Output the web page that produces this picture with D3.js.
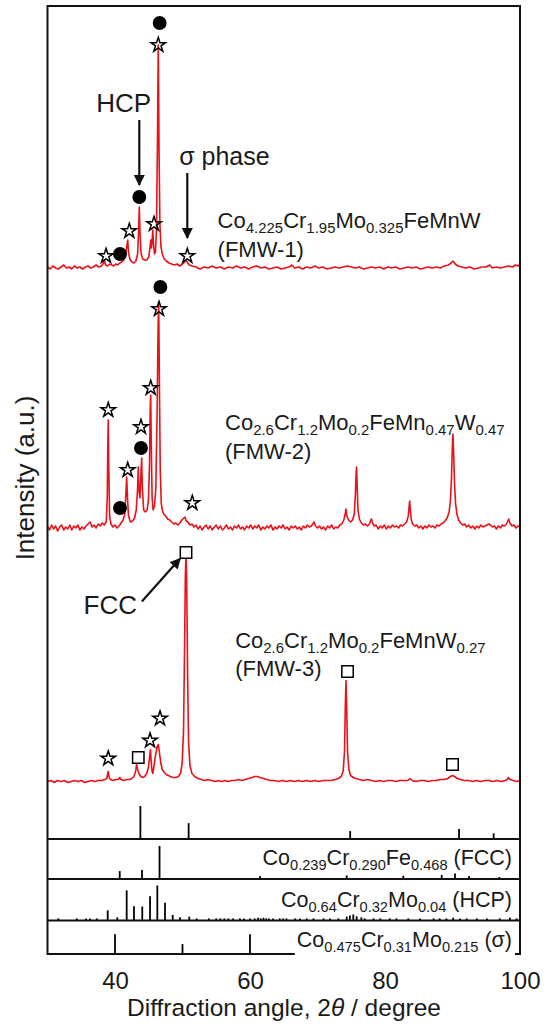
<!DOCTYPE html>
<html>
<head>
<meta charset="utf-8">
<script src="https://cdn.jsdelivr.net/npm/d3@7"></script>
<style>
  body { margin: 0; background: #fff; }
  svg { display: block; }
  text { font-family: "Liberation Sans", Arial, Helvetica, sans-serif; fill: #1a1a1a; }
</style>
</head>
<body>
<svg id="chart" width="546" height="1030"></svg>
<script>
// ---------- data ----------
const angleDomain = [30, 100];
const xTicks = [40, 60, 80, 100];

// XRD scans, [2theta (deg), intensity above own baseline (a.u.)]
const fmw1 = [
  [30.0,1],[30.4,-1],[30.8,2],[31.2,0],[31.6,-1],[32.0,1],[32.4,3],[32.8,0],[33.2,1],[33.6,-1],
  [34.0,2],[34.4,0],[34.8,1],[35.2,-1],[35.6,1],[36.0,2],[36.4,0],[36.8,1],[37.2,3],[37.6,1],
  [38.0,2],[38.3,5],[38.45,7],[38.6,3],[38.9,2],[39.2,4],[39.5,3],[39.8,2],[40.1,4],[40.4,3],
  [40.7,5],[41.0,6],[41.3,8],[41.55,12],[41.75,22],[41.88,28],[42.0,16],[42.2,9],[42.5,6],[42.8,5],
  [43.1,7],[43.35,14],[43.5,38],[43.6,61],[43.7,36],[43.85,15],[44.1,9],[44.4,8],[44.7,8],[45.0,11],
  [45.2,22],[45.3,28],[45.4,20],[45.5,28],[45.6,38],[45.7,24],[45.85,14],[46.0,16],[46.15,40],[46.28,120],
  [46.41,223],[46.52,120],[46.65,45],[46.8,22],[47.0,14],[47.3,9],[47.6,7],[48.0,5],[48.4,4],[48.8,3],
  [49.2,4],[49.6,2],[50.0,4],[50.3,6],[50.5,8],[50.7,6],[51.0,3],[51.4,2],[52.0,1],[52.6,-1],
  [53.2,1],[53.8,0],[54.4,2],[55.0,0],[55.6,1],[56.2,-1],[56.8,1],[57.4,0],[58.0,2],[58.6,0],
  [59.2,1],[59.8,-1],[60.4,1],[61.0,2],[61.6,0],[62.2,1],[62.8,-1],[63.4,0],[64.0,1],[64.6,-1],
  [65.2,0],[65.8,1],[66.2,3],[66.6,0],[67.2,1],[67.8,-1],[68.4,1],[69.0,0],[69.6,2],[70.2,0],
  [70.8,1],[71.4,-1],[72.0,0],[72.6,1],[73.2,0],[73.8,1],[74.4,2],[75.0,1],[75.6,0],[76.2,1],
  [76.8,-1],[77.4,0],[78.0,1],[78.6,0],[79.2,1],[79.8,-1],[80.4,1],[81.0,0],[81.6,1],[82.2,-1],
  [82.8,0],[83.4,1],[84.0,0],[84.6,1],[85.2,-1],[85.8,0],[86.4,1],[87.0,0],[87.6,1],[88.2,0],
  [88.8,2],[89.4,3],[89.8,5],[90.07,7],[90.4,4],[90.8,2],[91.4,1],[92.0,0],[92.6,1],[93.2,-1],
  [93.8,0],[94.4,1],[95.0,1],[95.5,3],[95.9,0],[96.5,1],[97.1,0],[97.7,1],[98.3,2],[98.9,1],
  [99.3,3],[99.7,2],[100.0,4]
];

const fmw2 = [
  [30.0,2],[30.3,-2],[30.6,3],[30.9,-1],[31.2,2],[31.5,-3],[31.8,1],[32.1,3],[32.4,-2],[32.7,1],
  [33.0,-1],[33.3,3],[33.6,-2],[33.9,2],[34.2,0],[34.5,3],[34.8,-2],[35.1,1],[35.4,-1],[35.7,2],
  [36.0,4],[36.3,6],[36.6,1],[36.9,3],[37.2,0],[37.5,4],[37.8,2],[38.1,5],[38.4,3],[38.7,6],
  [38.85,30],[38.95,90],[39.0,108],[39.08,60],[39.2,12],[39.4,4],[39.7,1],[40.0,3],[40.3,0],[40.6,2],
  [40.9,5],[41.2,8],[41.45,14],[41.62,35],[41.73,51],[41.85,30],[42.0,12],[42.3,6],[42.6,7],[42.9,10],
  [43.15,18],[43.35,40],[43.45,61],[43.55,38],[43.7,30],[43.85,55],[43.95,70],[44.05,40],[44.25,18],[44.5,16],
  [44.75,18],[44.95,28],[45.1,60],[45.22,120],[45.29,133],[45.38,80],[45.5,30],[45.65,18],[45.85,22],[46.05,40],
  [46.25,120],[46.38,200],[46.47,226],[46.56,160],[46.7,60],[46.85,25],[47.0,18],[47.2,14],[47.5,12],[47.8,9],
  [48.1,8],[48.4,6],[48.7,4],[49.0,5],[49.3,3],[49.6,5],[49.9,8],[50.2,10],[50.37,11],[50.55,7],
  [50.8,6],[51.1,3],[51.4,4],[51.7,1],[52.0,3],[52.3,-1],[52.6,2],[52.9,-2],[53.2,1],[53.5,3],
  [53.8,-1],[54.1,2],[54.4,-2],[54.7,1],[55.0,3],[55.3,-1],[55.6,2],[55.9,-2],[56.2,0],[56.5,3],
  [56.8,-1],[57.1,1],[57.4,-2],[57.7,2],[58.0,0],[58.3,3],[58.6,-1],[58.9,1],[59.2,-2],[59.5,2],
  [59.8,0],[60.1,3],[60.4,-1],[60.7,2],[61.0,0],[61.3,3],[61.6,-2],[61.9,1],[62.2,-1],[62.5,2],
  [62.8,0],[63.1,3],[63.4,-2],[63.7,1],[64.0,-1],[64.3,2],[64.6,0],[64.9,3],[65.2,-1],[65.5,1],
  [65.8,-2],[66.1,2],[66.4,0],[66.7,2],[67.0,-1],[67.3,1],[67.6,-2],[67.9,2],[68.2,0],[68.5,3],
  [68.8,1],[69.1,2],[69.3,4],[69.48,6],[69.7,2],[70.0,0],[70.3,2],[70.6,-1],[70.9,1],[71.2,-2],
  [71.5,2],[71.8,0],[72.1,3],[72.4,-1],[72.7,1],[73.0,0],[73.3,3],[73.6,4],[73.9,8],[74.1,14],
  [74.22,19],[74.35,12],[74.6,8],[74.9,6],[75.2,8],[75.45,14],[75.62,35],[75.72,55],[75.79,61],[75.88,40],
  [76.0,18],[76.2,9],[76.5,5],[76.8,3],[77.1,4],[77.4,2],[77.7,4],[77.9,8],[78.0,9],[78.15,5],
  [78.4,2],[78.7,3],[79.0,-1],[79.3,2],[79.6,0],[79.9,3],[80.2,-1],[80.5,2],[80.8,0],[81.1,3],
  [81.4,1],[81.7,2],[82.0,0],[82.3,3],[82.6,2],[82.9,4],[83.2,6],[83.45,12],[83.58,22],[83.66,27],
  [83.75,18],[83.9,8],[84.1,4],[84.4,2],[84.7,3],[85.0,0],[85.3,2],[85.6,-1],[85.9,2],[86.2,0],
  [86.5,3],[86.8,1],[87.1,2],[87.4,0],[87.7,3],[88.0,2],[88.3,4],[88.6,5],[88.9,7],[89.2,10],
  [89.5,16],[89.7,28],[89.85,50],[89.97,80],[90.07,94],[90.17,75],[90.3,45],[90.45,25],[90.65,14],[90.9,8],
  [91.2,5],[91.5,3],[91.8,4],[92.1,1],[92.4,3],[92.7,0],[93.0,2],[93.3,-1],[93.6,2],[93.9,0],
  [94.2,3],[94.5,1],[94.8,2],[95.1,3],[95.4,4],[95.6,3],[95.9,1],[96.2,2],[96.5,-1],[96.8,2],
  [97.1,0],[97.4,3],[97.7,2],[98.0,4],[98.2,7],[98.33,9],[98.5,5],[98.8,2],[99.1,3],[99.4,0],
  [99.7,2],[100.0,1]
];

const fmw3 = [
  [30.0,0],[30.5,1],[31.0,-1],[31.5,1],[32.0,0],[32.5,1],[33.0,-1],[33.5,0],[34.0,1],[34.5,0],
  [35.0,1],[35.5,-1],[36.0,0],[36.5,1],[37.0,0],[37.5,1],[38.0,1],[38.5,2],[38.8,3],[38.92,8],
  [39.0,10],[39.1,5],[39.3,2],[39.7,1],[40.1,2],[40.5,2],[40.7,4],[40.9,2],[41.3,1],[41.7,2],
  [42.1,2],[42.5,3],[42.8,5],[43.05,10],[43.2,17],[43.35,12],[43.55,8],[43.8,5],[44.1,4],[44.4,5],
  [44.7,8],[44.95,14],[45.15,26],[45.25,32],[45.38,18],[45.5,10],[45.6,8],[45.75,14],[46.0,26],[46.25,35],
  [46.42,37],[46.6,28],[46.8,18],[47.0,12],[47.3,9],[47.6,7],[47.9,6],[48.2,5],[48.6,4],[49.0,4],
  [49.4,5],[49.7,8],[49.95,18],[50.15,50],[50.3,130],[50.42,205],[50.52,228],[50.62,200],[50.75,110],[50.9,40],
  [51.1,16],[51.4,8],[51.8,5],[52.3,3],[52.8,2],[53.3,1],[53.8,2],[54.3,1],[54.8,0],[55.3,1],
  [55.8,0],[56.3,1],[56.8,0],[57.3,1],[57.8,1],[58.3,2],[58.8,1],[59.3,2],[59.8,3],[60.3,4],
  [60.7,5],[61.1,5],[61.5,4],[62.0,3],[62.5,2],[63.0,1],[63.6,1],[64.2,0],[64.8,1],[65.4,0],
  [66.0,1],[66.6,0],[67.2,1],[67.8,0],[68.4,1],[69.0,0],[69.6,1],[70.2,0],[70.8,1],[71.4,1],
  [72.0,1],[72.6,2],[73.1,3],[73.5,5],[73.8,10],[74.0,30],[74.12,75],[74.22,101],[74.32,75],[74.45,30],
  [74.65,12],[74.9,6],[75.3,4],[75.7,3],[76.2,2],[76.8,1],[77.4,2],[78.0,1],[78.6,0],[79.2,1],
  [79.8,0],[80.4,1],[81.0,1],[81.6,0],[82.2,1],[82.8,1],[83.4,1],[83.7,3],[84.0,1],[84.6,0],
  [85.2,1],[85.8,1],[86.4,0],[87.0,1],[87.6,1],[88.2,2],[88.8,2],[89.3,3],[89.7,5],[90.0,6],
  [90.3,5],[90.7,3],[91.2,2],[91.8,1],[92.4,1],[93.0,0],[93.6,1],[94.2,0],[94.8,1],[95.4,1],
  [96.0,0],[96.6,1],[97.2,0],[97.8,1],[98.1,2],[98.3,4],[98.5,2],[99.0,1],[99.5,0],[100.0,1]
];

// phase markers: [symbol, 2theta, intensity above baseline]
const fmw1Markers = [
  ["circle",46.62,245],["star",46.41,223],["circle",43.6,71],["star",45.78,44],
  ["star",42.12,37],["circle",40.74,14],["star",38.67,12],["star",50.71,12]
];
const fmw2Markers = [
  ["circle",46.72,241],["star",46.52,219],["star",45.29,140],["star",39.0,118],
  ["star",43.85,101],["circle",43.85,80],["star",41.88,58],["circle",40.74,20],["star",51.45,25]
];
const fmw3Markers = [
  ["star",39.0,23],["square",43.45,24],["star",45.19,41],["star",46.67,63],
  ["square",50.52,229],["square",74.45,110],["square",90.0,17]
];

// reference stick patterns: [2theta, relative intensity %]
const refSticksA = [[43.76,100],[50.91,48],[74.84,24],[90.97,30],[96.1,17]];
const refSticksB = [[40.7,24],[44.0,27],[46.6,100],[61.5,9],[74.33,11],[82.71,10],[88.4,12],[90.37,17],[92.44,9],[96.93,6]];
const refSticksC = [
  [31.6,6],[34.33,6],[35.7,6],[36.3,6],[37.3,6],[38.92,29],[40.34,9],[41.73,86],[42.81,41],[44.04,40],
  [45.19,69],[46.27,100],[47.41,51],[48.55,16],[49.63,9],[51.0,11],[52.1,6],[53.9,6],[55.0,6],[55.6,6],
  [56.2,6],[56.8,6],[57.5,6],[58.5,6],[59.1,6],[60.0,6],[60.7,6],[61.2,8],[61.6,6],[62.0,8],
  [62.4,6],[62.8,6],[63.4,6],[64.4,6],[64.9,6],[65.4,6],[66.7,6],[67.4,6],[68.4,6],[69.4,6],
  [70.9,6],[71.85,6],[73.1,6],[74.33,11],[74.8,14],[75.3,17],[75.8,12],[76.5,9],[77.0,6],[78.3,6],
  [79.3,6],[80.7,6],[81.7,6],[83.45,6],[85.2,6],[87.2,6],[88.1,6],[89.1,6],[90.1,8],[91.1,6],
  [92.1,6],[93.6,6],[95.1,6],[97.0,6],[98.5,8],[99.5,6]
];
const refSticksD = [[40,60],[50,30],[60,60]];

// formula labels: even items normal text, odd items subscripts
const sampleFormulas = [
  ["Co","4.225","Cr","1.95","Mo","0.325","FeMnW"],
  ["Co","2.6","Cr","1.2","Mo","0.2","FeMn","0.47","W","0.47"],
  ["Co","2.6","Cr","1.2","Mo","0.2","FeMnW","0.27"]
];
const sampleNames = ["(FMW-1)", "(FMW-2)", "(FMW-3)"];
const refFormulas = [
  ["Co","0.239","Cr","0.290","Fe","0.468"," (FCC)"],
  ["Co","0.64","Cr","0.32","Mo","0.04"," (HCP)"],
  ["Co","0.475","Cr","0.31","Mo","0.215"," (\u03c3)"]
];

// ---------- layout ----------
const RED = "#ea1118";
const frame = { left: 47.5, right: 520, top: 6, bottom: 954 };
const svg = d3.select("#chart");

const x = d3.scaleLinear().domain(angleDomain).range([frame.left, frame.right]);
const y = d3.scaleLinear().domain([0, 833]).range([839, frame.top]);
const offsets = [571, 311, 57.5];   // vertical stacking of the three scans

// arrow head
svg.append("defs").append("marker")
  .attr("id", "head").attr("viewBox", "0 0 10 10").attr("refX", 9).attr("refY", 5)
  .attr("markerWidth", 11).attr("markerHeight", 12).attr("markerUnits", "userSpaceOnUse")
  .attr("orient", "auto")
  .append("path").attr("d", "M0,0 L10,5 L0,10 Z").attr("fill", "#111");

// scans
const scans = [fmw1, fmw2, fmw3];
const line = off => d3.line().x(d => x(d[0])).y(d => y(d[1] + off));
svg.append("g").selectAll("path").data(scans).join("path")
  .attr("d", (d, i) => line(offsets[i])(d))
  .attr("fill", "none").attr("stroke", RED).attr("stroke-width", 1.6)
  .attr("stroke-linejoin", "round");

// phase markers
const symbolOf = { star: d3.symbolStar, circle: d3.symbolCircle, square: d3.symbolSquare };
const sizeOf = { star: 66, circle: 120, square: 130 };
[fmw1Markers, fmw2Markers, fmw3Markers].forEach((ms, i) => {
  svg.append("g").selectAll("path").data(ms).join("path")
    .attr("transform", d => `translate(${x(d[1])},${y(d[2] + offsets[i])})`)
    .attr("d", d => d3.symbol().type(symbolOf[d[0]]).size(sizeOf[d[0]])())
    .attr("fill", d => d[0] === "circle" ? "#000" : d[0] === "square" ? "#fff" : "none")
    .attr("stroke", "#000").attr("stroke-width", 1.5).attr("stroke-linejoin", "miter");
});

// reference stick panels
const panels = [
  { base: 839, h: 33, sticks: refSticksA },
  { base: 879, h: 33, sticks: refSticksB },
  { base: 920.5, h: 35, sticks: refSticksC },
  { base: 954, h: 33, sticks: refSticksD }
];
panels.forEach(p => {
  const py = d3.scaleLinear().domain([0, 100]).range([p.base, p.base - p.h]);
  svg.append("g").selectAll("line").data(p.sticks).join("line")
    .attr("x1", d => x(d[0])).attr("x2", d => x(d[0]))
    .attr("y1", py(0)).attr("y2", d => py(d[1]))
    .attr("stroke", "#000").attr("stroke-width", 1.8);
});

// frame and panel dividers
svg.append("rect")
  .attr("x", frame.left).attr("y", frame.top)
  .attr("width", frame.right - frame.left).attr("height", frame.bottom - frame.top)
  .attr("fill", "none").attr("stroke", "#111").attr("stroke-width", 2);
svg.append("g").selectAll("line").data([839, 879, 920.5]).join("line")
  .attr("x1", frame.left).attr("x2", frame.right).attr("y1", d => d).attr("y2", d => d)
  .attr("stroke", "#111").attr("stroke-width", 2);

// formula text helper
function formula(sel, parts, size) {
  const shift = size * 0.24;
  parts.forEach((t, i) => {
    const sub = i % 2 === 1;
    sel.append("tspan").text(t)
      .attr("font-size", sub ? size * 0.68 : size)
      .attr("dy", i === 0 ? 0 : (sub ? shift : -shift));
  });
  return sel;
}

// sample labels
const labelPos = [
  { ang: 55.2, base: 228, name: 257 },
  { ang: 56.3, base: 430, name: 459 },
  { ang: 57.8, base: 648, name: 676 }
];
labelPos.forEach((p, i) => {
  formula(svg.append("text").attr("x", x(p.ang)).attr("y", p.base), sampleFormulas[i], 22);
  svg.append("text").attr("x", x(p.ang)).attr("y", p.name).attr("font-size", 22).text(sampleNames[i]);
});

// reference labels
const refBase = [864.5, 906.5, 946.5];
refFormulas.forEach((f, i) => {
  const t = formula(svg.append("text").attr("x", 512).attr("y", refBase[i])
    .attr("text-anchor", "end"), f, 21.5);
  if (i === 2) {
    const b = t.node().getBBox();
    svg.insert("rect", "text:last-of-type")
      .attr("x", b.x - 2).attr("y", b.y)
      .attr("width", 515 - (b.x - 2)).attr("height", 958 - b.y)
      .attr("fill", "#fff");
    t.raise();
  }
});

// annotations
svg.append("text").attr("x", x(41.3)).attr("y", y(571 + 156)).attr("text-anchor", "middle")
  .attr("font-size", 26).text("HCP");
svg.append("line").attr("x1", x(43.6)).attr("x2", x(43.6))
  .attr("y1", y(571 + 148)).attr("y2", y(571 + 83))
  .attr("stroke", "#111").attr("stroke-width", 2.2).attr("marker-end", "url(#head)");

svg.append("text").attr("x", x(49.5)).attr("y", y(571 + 103)).attr("font-size", 25)
  .text("\u03c3 phase");
svg.append("line").attr("x1", x(50.71)).attr("x2", x(50.71))
  .attr("y1", y(571 + 95)).attr("y2", y(571 + 30))
  .attr("stroke", "#111").attr("stroke-width", 2.2).attr("marker-end", "url(#head)");

svg.append("text").attr("x", x(39.3)).attr("y", y(57.5 + 168)).attr("text-anchor", "middle")
  .attr("font-size", 26).text("FCC");
svg.append("line").attr("x1", x(43.98)).attr("y1", y(57.5 + 180))
  .attr("x2", x(49.65)).attr("y2", y(57.5 + 223))
  .attr("stroke", "#111").attr("stroke-width", 2.2).attr("marker-end", "url(#head)");

// x axis labels
const xAxis = svg.append("g").attr("transform", `translate(0,${frame.bottom})`)
  .call(d3.axisBottom(x).tickValues(xTicks).tickSize(0).tickPadding(18));
xAxis.select(".domain").remove();
xAxis.selectAll("text").attr("font-size", 24).attr("font-family", null).attr("fill", "#1a1a1a");

const xt = svg.append("text").attr("x", 284).attr("y", 1016).attr("text-anchor", "middle")
  .attr("font-size", 24.5);
xt.append("tspan").text("Diffraction angle, 2");
xt.append("tspan").attr("font-style", "italic").text("\u03b8");
xt.append("tspan").text(" / degree");

svg.append("text").attr("transform", "translate(34,478) rotate(-90)")
  .attr("text-anchor", "middle").attr("font-size", 26).text("Intensity (a.u.)");
</script>
</body>
</html>
